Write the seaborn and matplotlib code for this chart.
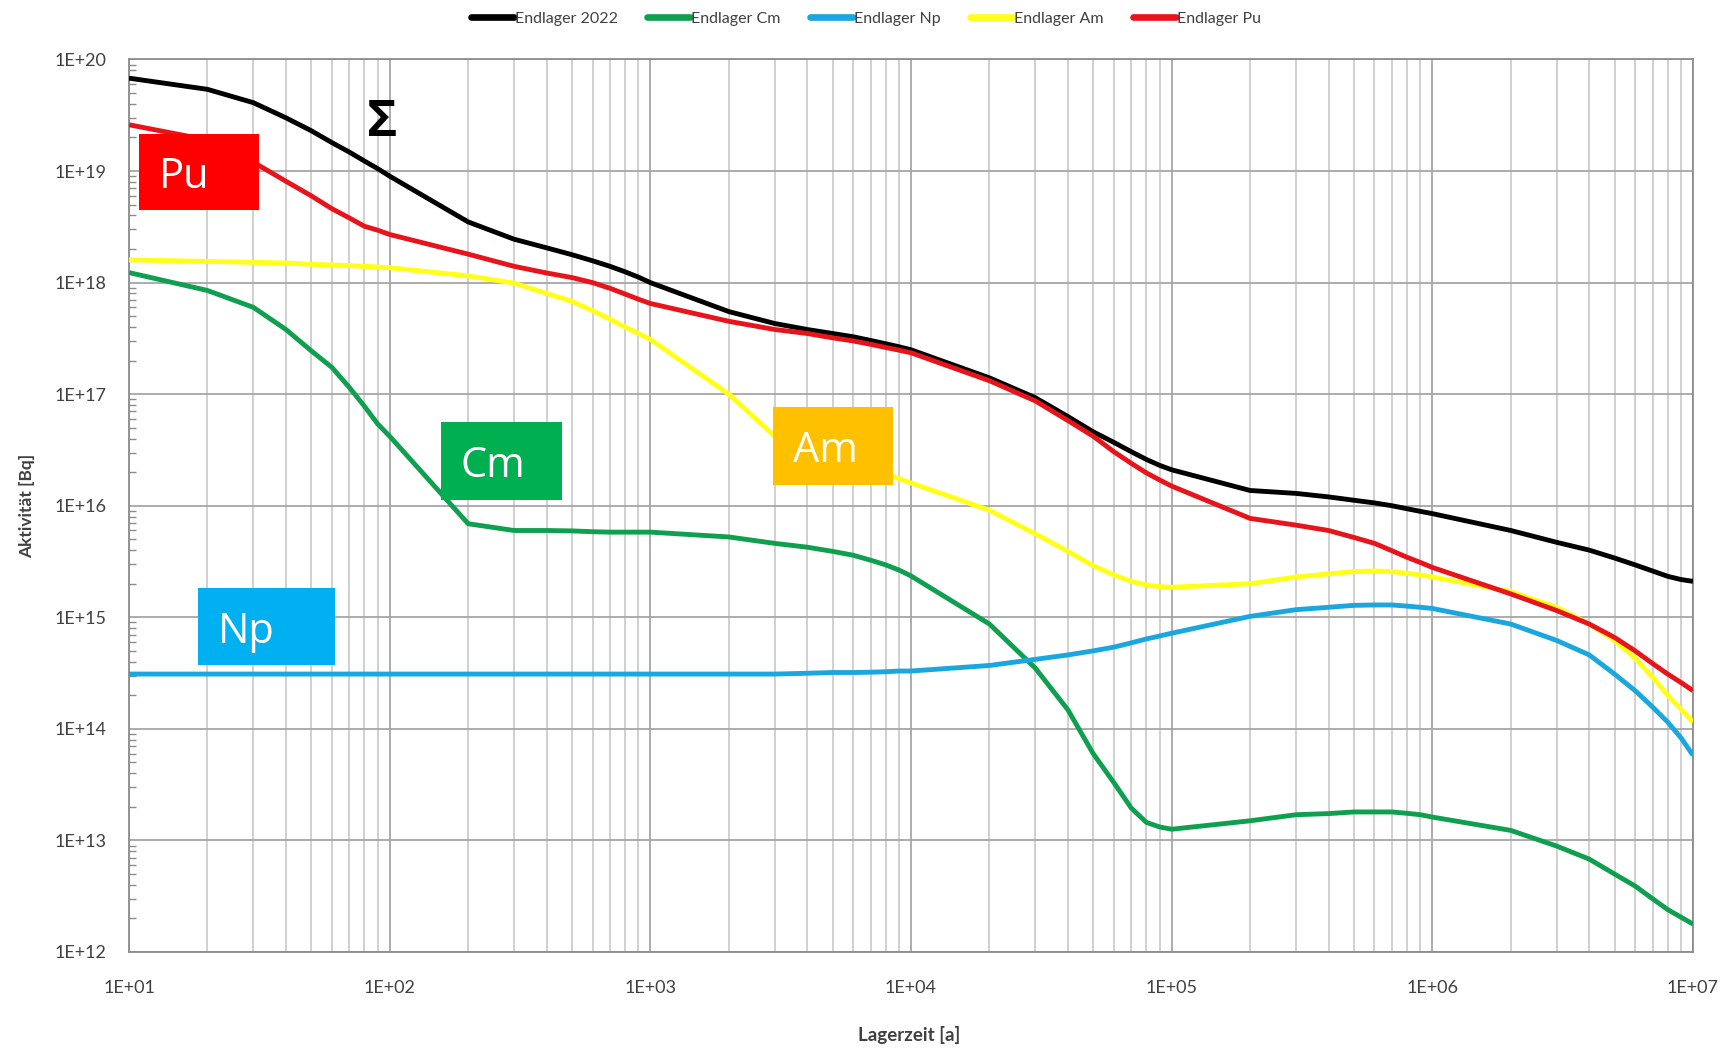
import numpy as np
import pandas as pd
import matplotlib
matplotlib.use("Agg")
import matplotlib.pyplot as plt
import matplotlib.ticker as mticker
from matplotlib.lines import Line2D
from matplotlib.patches import Rectangle
import seaborn as sns

# Storage time in years
lagerzeit = [10, 20, 30, 40, 50, 60, 70, 80, 90,
             100, 200, 300, 400, 500, 600, 700, 800, 900,
             1e3, 2e3, 3e3, 4e3, 5e3, 6e3, 7e3, 8e3, 9e3,
             1e4, 2e4, 3e4, 4e4, 5e4, 6e4, 7e4, 8e4, 9e4,
             1e5, 2e5, 3e5, 4e5, 5e5, 6e5, 7e5, 8e5, 9e5,
             1e6, 2e6, 3e6, 4e6, 5e6, 6e6, 7e6, 8e6, 9e6,
             1e7]

# Activity in Bq
endlager_2022 = [6.8e19, 5.4e19, 4.1e19, 3.0e19, 2.3e19, 1.8e19, 1.48e19, 1.23e19, 1.05e19,
                 9.0e18, 3.5e18, 2.45e18, 2.05e18, 1.78e18, 1.57e18, 1.4e18, 1.25e18, 1.12e18,
                 1.0e18, 5.5e17, 4.3e17, 3.8e17, 3.5e17, 3.27e17, 3.03e17, 2.83e17, 2.66e17,
                 2.5e17, 1.4e17, 9.3e16, 6.3e16, 4.6e16, 3.7e16, 3.05e16, 2.6e16, 2.3e16,
                 2.1e16, 1.37e16, 1.29e16, 1.2e16, 1.12e16, 1.06e16, 1.0e16, 9.4e15, 8.9e15,
                 8.5e15, 6.0e15, 4.7e15, 4.0e15, 3.4e15, 2.95e15, 2.6e15, 2.33e15, 2.18e15,
                 2.1e15]

endlager_cm = [1.23e18, 8.5e17, 6.0e17, 3.8e17, 2.45e17, 1.74e17, 1.15e17, 7.8e16, 5.4e16,
               4.2e16, 6.9e15, 6.0e15, 6.0e15, 5.95e15, 5.85e15, 5.8e15, 5.8e15, 5.8e15,
               5.8e15, 5.25e15, 4.6e15, 4.25e15, 3.9e15, 3.6e15, 3.25e15, 2.95e15, 2.65e15,
               2.35e15, 8.7e14, 3.5e14, 1.48e14, 6.0e13, 3.3e13, 1.95e13, 1.45e13, 1.32e13,
               1.26e13, 1.5e13, 1.7e13, 1.74e13, 1.8e13, 1.8e13, 1.8e13, 1.75e13, 1.7e13,
               1.62e13, 1.23e13, 8.9e12, 6.8e12, 5.0e12, 3.9e12, 3.0e12, 2.4e12, 2.05e12,
               1.78e12]

endlager_np = [3.1e14, 3.1e14, 3.1e14, 3.1e14, 3.1e14, 3.1e14, 3.1e14, 3.1e14, 3.1e14,
               3.1e14, 3.1e14, 3.1e14, 3.1e14, 3.1e14, 3.1e14, 3.1e14, 3.1e14, 3.1e14,
               3.1e14, 3.1e14, 3.1e14, 3.15e14, 3.2e14, 3.2e14, 3.22e14, 3.25e14, 3.3e14,
               3.3e14, 3.7e14, 4.2e14, 4.6e14, 5.0e14, 5.4e14, 5.9e14, 6.4e14, 6.8e14,
               7.2e14, 1.02e15, 1.17e15, 1.23e15, 1.28e15, 1.29e15, 1.29e15, 1.26e15, 1.23e15,
               1.2e15, 8.7e14, 6.2e14, 4.6e14, 3.1e14, 2.2e14, 1.57e14, 1.15e14, 8.3e13,
               5.8e13]

endlager_am = [1.6e18, 1.55e18, 1.52e18, 1.5e18, 1.46e18, 1.44e18, 1.42e18, 1.4e18, 1.38e18,
               1.36e18, 1.15e18, 9.9e17, 8.0e17, 6.8e17, 5.6e17, 4.7e17, 4.0e17, 3.5e17,
               3.1e17, 1.0e17, 4.2e16, 3.2e16, 2.7e16, 2.4e16, 2.15e16, 1.95e16, 1.75e16,
               1.6e16, 9.1e15, 5.6e15, 3.9e15, 2.9e15, 2.4e15, 2.1e15, 1.95e15, 1.88e15,
               1.86e15, 2.0e15, 2.3e15, 2.45e15, 2.57e15, 2.6e15, 2.57e15, 2.48e15, 2.4e15,
               2.3e15, 1.7e15, 1.23e15, 8.7e14, 6.2e14, 4.3e14, 2.9e14, 2.0e14, 1.5e14,
               1.15e14]

endlager_pu = [2.6e19, 1.9e19, 1.2e19, 8.1e18, 6.0e18, 4.6e18, 3.8e18, 3.2e18, 2.95e18,
               2.7e18, 1.8e18, 1.4e18, 1.22e18, 1.11e18, 1.0e18, 8.9e17, 7.9e17, 7.1e17,
               6.5e17, 4.5e17, 3.8e17, 3.5e17, 3.2e17, 3.0e17, 2.8e17, 2.62e17, 2.48e17,
               2.35e17, 1.32e17, 8.7e16, 5.8e16, 4.2e16, 3.05e16, 2.4e16, 1.97e16, 1.7e16,
               1.5e16, 7.7e15, 6.7e15, 6.0e15, 5.2e15, 4.6e15, 3.95e15, 3.45e15, 3.1e15,
               2.8e15, 1.62e15, 1.15e15, 8.7e14, 6.6e14, 5.0e14, 3.85e14, 3.1e14, 2.6e14,
               2.2e14]

serien = ["Endlager 2022", "Endlager Cm", "Endlager Np", "Endlager Am", "Endlager Pu"]
werte = [endlager_2022, endlager_cm, endlager_np, endlager_am, endlager_pu]
farben = {"Endlager 2022": "#000000", "Endlager Cm": "#0FA04F", "Endlager Np": "#1AA7E0",
          "Endlager Am": "#FFFF1A", "Endlager Pu": "#E8141B"}

df = pd.concat(
    [pd.DataFrame({"Lagerzeit": lagerzeit, "Aktivitaet": w, "Serie": s})
     for s, w in zip(serien, werte)],
    ignore_index=True)

sns.set_theme(style="white")
plt.rcParams["font.family"] = ["Lato", "DejaVu Sans"]

fig = plt.figure(figsize=(17.27, 10.51), dpi=100)
ax = fig.add_axes([0.0747, 0.0942, 0.9056, 0.8492])

sns.lineplot(data=df, x="Lagerzeit", y="Aktivitaet", hue="Serie", hue_order=serien,
             palette=farben, linewidth=3.5, sort=False, estimator=None,
             legend=False, ax=ax, zorder=3)
for ln in ax.get_lines():
    ln.set_solid_joinstyle("round")
    ln.set_solid_capstyle("butt")

ax.set_xscale("log")
ax.set_yscale("log")
ax.set_xlim(10, 1e7)
ax.set_ylim(1e12, 1e20)

fmt = mticker.FuncFormatter(lambda v, p: f"1E+{int(round(np.log10(v))):02d}")
ax.xaxis.set_major_locator(mticker.FixedLocator([10.0 ** k for k in range(1, 8)]))
ax.yaxis.set_major_locator(mticker.FixedLocator([10.0 ** k for k in range(12, 21)]))
ax.xaxis.set_minor_locator(mticker.FixedLocator(
    [m * 10.0 ** k for k in range(1, 7) for m in range(2, 10)]))
ax.yaxis.set_minor_locator(mticker.FixedLocator(
    [m * 10.0 ** k for k in range(12, 20) for m in range(2, 10)]))
ax.xaxis.set_major_formatter(fmt)
ax.yaxis.set_major_formatter(fmt)
ax.xaxis.set_minor_formatter(mticker.NullFormatter())
ax.yaxis.set_minor_formatter(mticker.NullFormatter())

ax.grid(True, which="major", axis="both", color="#A6A6A6", linewidth=1.3, zorder=0)
ax.grid(True, which="minor", axis="x", color="#C4C4C4", linewidth=1.1, zorder=0)
ax.set_axisbelow(True)

ax.tick_params(axis="x", which="both", length=0, pad=20, labelsize=13, labelcolor="#404040")
ax.tick_params(axis="y", which="major", length=0, pad=16, labelsize=13, labelcolor="#404040")
ax.tick_params(axis="y", which="minor", direction="in", length=5, width=1, color="#8C8C8C",
               left=True)
for sp in ax.spines.values():
    sp.set_color("#8C8C8C")
    sp.set_linewidth(1.3)

ax.set_xlabel("Lagerzeit [a]", fontsize=13.5, fontweight="bold", color="#404040")
ax.set_ylabel("Aktivität [Bq]", fontsize=12.5, fontweight="bold", color="#404040")
ax.xaxis.set_label_coords(0.499, -0.093)
ax.xaxis.label.set_va("center")
ax.yaxis.set_label_coords(-0.065, 0.5)
ax.yaxis.label.set_va("center")

# Coloured labels for the nuclide groups
kaesten = [
    ("Pu", "#FF0000", 0.0063, 0.831, 0.0767, 0.085),
    ("Cm", "#00B050", 0.1995, 0.5068, 0.0774, 0.087),
    ("Am", "#FFC000", 0.4118, 0.5236, 0.0770, 0.0867),
    ("Np", "#00B0F0", 0.0443, 0.3213, 0.0873, 0.0864),
]
for name, col, x0, y0, w, h in kaesten:
    ax.add_patch(Rectangle((x0, y0), w, h, transform=ax.transAxes, facecolor=col,
                           edgecolor="none", zorder=5))
    ax.text(x0 + 0.0125, y0 + h / 2, name, transform=ax.transAxes, color="white",
            fontsize=30, family=["Open Sans", "DejaVu Sans"], ha="left", va="center_baseline",
            zorder=6)

ax.text(0.1618, 0.929, "Σ", transform=ax.transAxes, fontsize=37, fontweight="bold",
        family=["Open Sans", "DejaVu Sans"], ha="center", va="center", color="black", zorder=6)

handles = [Line2D([0], [0], color=farben[s], linewidth=4.8) for s in serien]
fig.legend(handles, serien, loc="center", bbox_to_anchor=(0.5014, 0.982), ncol=5,
           frameon=False, fontsize=11.5, handlelength=2.7, handletextpad=0.05,
           columnspacing=1.85, labelcolor="#404040")

fig.savefig("out.png", dpi=100, facecolor="white")
